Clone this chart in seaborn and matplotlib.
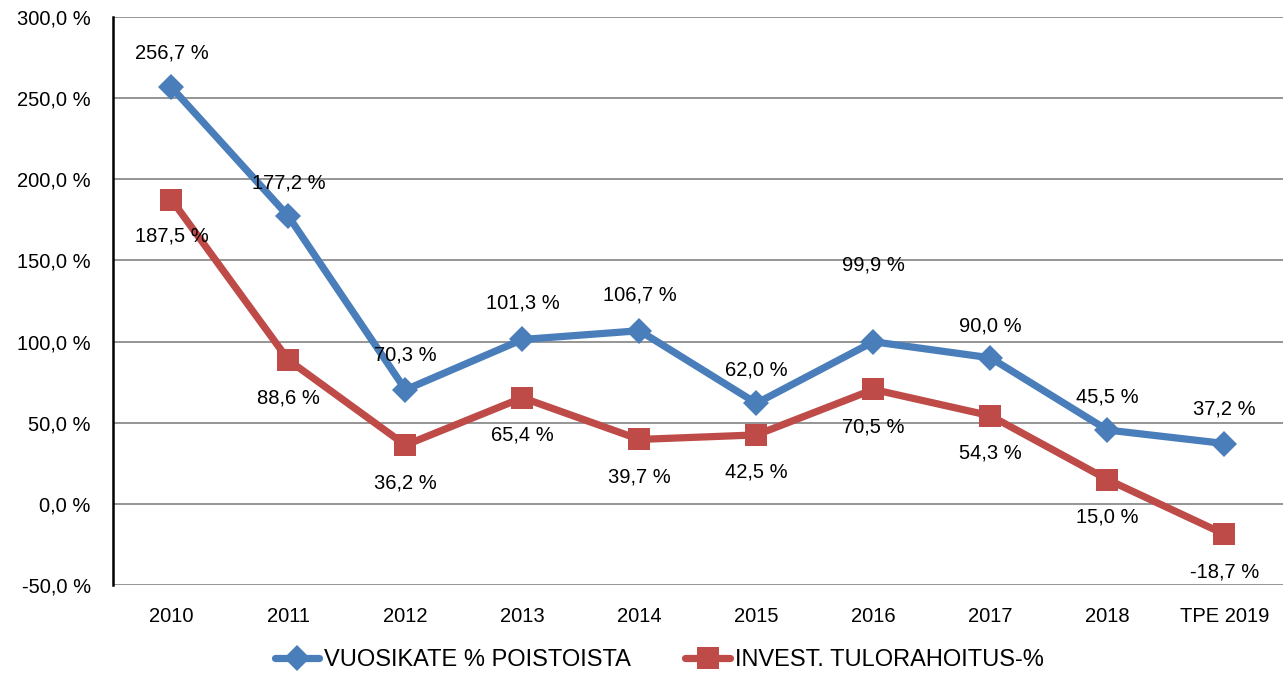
import pandas as pd
import seaborn as sns
import matplotlib.pyplot as plt
from matplotlib.ticker import FuncFormatter, MultipleLocator

years = ['2010', '2011', '2012', '2013', '2014', '2015', '2016', '2017', '2018', 'TPE 2019']
vuosikate = [256.7, 177.2, 70.3, 101.3, 106.7, 62.0, 99.9, 90.0, 45.5, 37.2]
tulorahoitus = [187.5, 88.6, 36.2, 65.4, 39.7, 42.5, 70.5, 54.3, 15.0, -18.7]
series_names = ['VUOSIKATE % POISTOISTA', 'INVEST. TULORAHOITUS-%']

# label offsets in points (style only)
blue_off = [25, 24, 25, 26, 26, 24, 55, 23, 24, 25]
red_off = [-26, -27, -27, -27, -27, -27, -27, -27, -27, -27]

df = pd.concat([
    pd.DataFrame({'year': years, 'value': vuosikate, 'series': series_names[0]}),
    pd.DataFrame({'year': years, 'value': tulorahoitus, 'series': series_names[1]}),
])

sns.set_style('white')
plt.rcParams['font.family'] = ['Liberation Sans', 'DejaVu Sans']
plt.rcParams['text.color'] = 'black'
plt.rcParams['xtick.color'] = 'black'
plt.rcParams['ytick.color'] = 'black'

fig = plt.figure(figsize=(12.85, 6.75), dpi=100)
ax = fig.add_axes([0.0879, 0.1333, 0.9105, 0.8415])

pal = {series_names[0]: '#4A7EBB', series_names[1]: '#BE4B48'}
sns.lineplot(data=df, x='year', y='value', hue='series', style='series',
             markers={series_names[0]: 'D', series_names[1]: 's'}, dashes=False,
             palette=pal, lw=5.2, markersize=15, markeredgewidth=0,
             sort=False, ax=ax)
# diamond a bit smaller than the square
msize = {'D': 13.5, 's': 16}
for ln in ax.lines:
    m = ln.get_marker()
    if m in msize:
        ln.set_markersize(msize[m])

fmt = lambda v: f'{v:.1f}'.replace('.', ',') + ' %'
for i, (a, b) in enumerate(zip(vuosikate, tulorahoitus)):
    ax.annotate(fmt(a), (i, a), xytext=(0, blue_off[i]), textcoords='offset points',
                ha='center', va='center', fontsize=14.5)
    ax.annotate(fmt(b), (i, b), xytext=(0, red_off[i]), textcoords='offset points',
                ha='center', va='center', fontsize=14.5)

ax.set_xlim(-0.5, len(years) - 0.5)
ax.set_ylim(-50, 300)
ax.yaxis.set_major_locator(MultipleLocator(50))
ax.yaxis.set_major_formatter(FuncFormatter(lambda v, p: fmt(v)))
ax.grid(axis='y', color='#8c8c8c', lw=1.3)
ax.set_axisbelow(True)
ax.tick_params(axis='both', labelsize=14.5, length=0)
ax.tick_params(axis='x', pad=16)
ax.tick_params(axis='y', pad=16)
ax.set_xlabel('')
ax.set_ylabel('')
for s in ['top', 'right', 'bottom']:
    ax.spines[s].set_visible(False)
ax.spines['left'].set_color('black')
ax.spines['left'].set_linewidth(1.8)

handles, labels = ax.get_legend_handles_labels()
ax.get_legend().remove()
fig.legend(handles, labels, loc='center', bbox_to_anchor=(0.513, 0.022), ncol=2,
           frameon=False, handlelength=1.9, handletextpad=0.2, columnspacing=2.3,
           prop={'size': 17})

fig.savefig('out.png', dpi=100)
